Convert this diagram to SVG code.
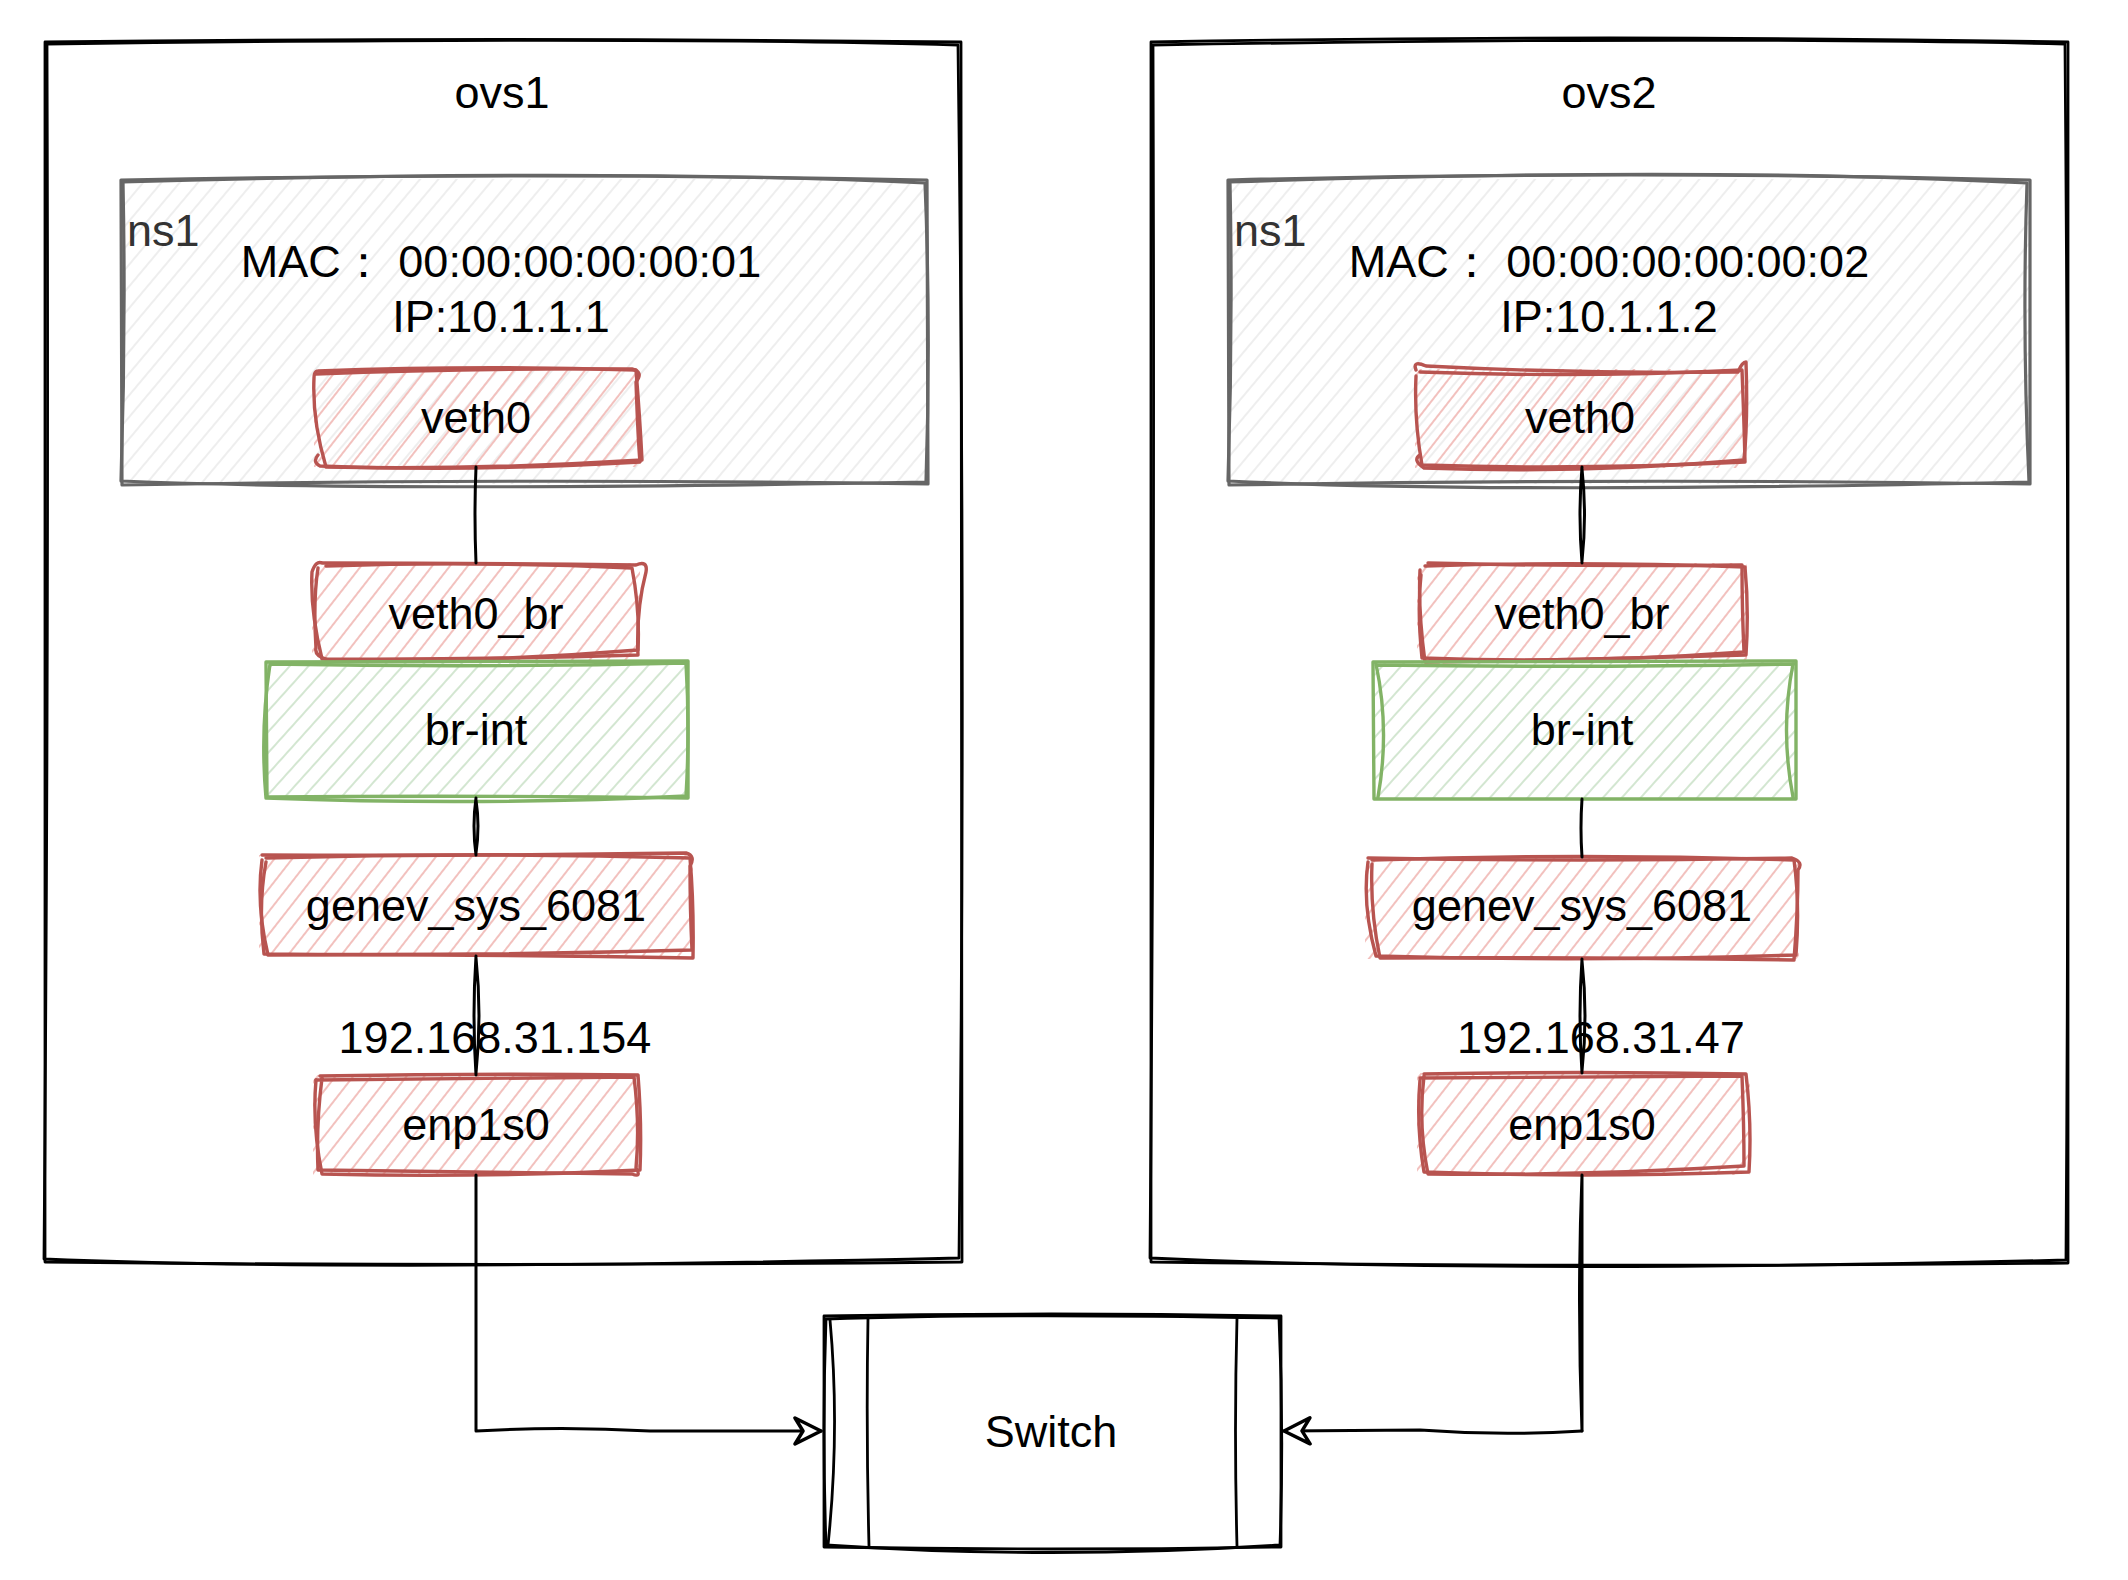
<svg xmlns="http://www.w3.org/2000/svg" width="2128" height="1580" viewBox="0 0 2128 1580">
<defs>
<style>
text{font-family:"Liberation Sans",Arial,Helvetica,sans-serif;font-size:45px;fill:#000}
.c{text-anchor:middle}
.ol{fill:none;stroke:#000;stroke-width:2.8;stroke-linejoin:round;stroke-linecap:round}
.gr{fill:none;stroke:#666;stroke-width:3.2;stroke-linejoin:round;stroke-linecap:round}
.rd{fill:none;stroke:#b85450;stroke-width:3.4;stroke-linejoin:round;stroke-linecap:round}
.gn{fill:none;stroke:#82b366;stroke-width:3.4;stroke-linejoin:round;stroke-linecap:round}
.ln{fill:none;stroke:#000;stroke-width:3;stroke-linecap:round;stroke-linejoin:round}
</style>
<pattern id="hGray" patternUnits="userSpaceOnUse" width="14" height="14" patternTransform="rotate(40)">
<line x1="3" y1="0" x2="3" y2="14" stroke="#eeeeee" stroke-width="2"/>
</pattern>
<pattern id="hRed" patternUnits="userSpaceOnUse" width="14" height="14" patternTransform="rotate(38)">
<line x1="3" y1="0" x2="3" y2="14" stroke="#f2c1be" stroke-width="2"/>
</pattern>
<pattern id="hGreen" patternUnits="userSpaceOnUse" width="14" height="14" patternTransform="rotate(42)">
<line x1="3" y1="0" x2="3" y2="14" stroke="#d3e6d1" stroke-width="2"/>
</pattern>
<marker id="arr" markerUnits="userSpaceOnUse" markerWidth="34" markerHeight="34" refX="28" refY="15" orient="auto">
<path d="M2,2 L28,15 L2,28 L10,15 Z" fill="#fff" stroke="#000" stroke-width="3.5" stroke-linejoin="round"/>
</marker>
</defs>
<rect x="0" y="0" width="2128" height="1580" fill="#fff"/>

<g id="ovs1">
<path class="ol" d="M45,42 Q500,37 961,42 L962,1262 Q500,1267 45,1262 Z"/>
<path class="ol" d="M47,44 Q650,36 958,45 Q966,650 959,1258 Q350,1272 44,1259 Q49,650 47,44"/>
<text class="c" x="502" y="108">ovs1</text>
</g>
<g id="ovs2">
<path class="ol" d="M1151,42 Q1610,34 2068,42 L2068,1263 Q1610,1268 1151,1262 Z"/>
<path class="ol" d="M1153,45 Q1700,36 2065,44 Q2070,650 2066,1260 Q1500,1274 1150,1258 Q1155,650 1153,45"/>
<text class="c" x="1609" y="108">ovs2</text>
</g>

<g id="ns1-ovs1">
<rect x="121" y="179" width="806" height="305" fill="url(#hGray)"/>
<path class="gr" d="M121,180 Q520,172 927,180 L928,484 Q520,478 122,485 Z"/>
<path class="gr" d="M123,182 Q600,168 925,183 Q931,330 926,482 Q400,492 121,481 Q126,330 123,182"/>
<text x="127" y="246" style="fill:#333">ns1</text>
<text class="c" x="501" y="277">MAC： 00:00:00:00:00:01</text>
<text class="c" x="501" y="332">IP:10.1.1.1</text>
</g>
<g id="ns1-ovs2">
<rect x="1228" y="179" width="802" height="305" fill="url(#hGray)"/>
<path class="gr" d="M1228,180 Q1630,170 2030,180 L2030,484 Q1630,478 1229,485 Z"/>
<path class="gr" d="M1230,182 Q1700,166 2027,183 Q2022,330 2029,482 Q1500,494 1228,481 Q1233,330 1230,182"/>
<text x="1234" y="246" style="fill:#333">ns1</text>
<text class="c" x="1609" y="277">MAC： 00:00:00:00:00:02</text>
<text class="c" x="1609" y="332">IP:10.1.1.2</text>
</g>

<g id="veth0-ovs1">
<rect x="314" y="370" width="324" height="97" fill="url(#hRed)"/>
<path class="rd" d="M318,371 Q480,365 636,370 Q640,420 642,460 Q480,470 326,467 Q312,420 314,378 Q314,368 322,372"/>
<path class="rd" d="M316,374 Q470,368 632,369 Q644,372 636,382 Q638,440 640,462 Q470,472 320,466 Q312,462 318,455"/>
<text class="c" x="476" y="433">veth0</text>
</g>
<g id="veth0-ovs2">
<rect x="1415" y="369" width="330" height="99" fill="url(#hRed)"/>
<path class="rd" d="M1420,372 Q1580,378 1742,370 Q1744,420 1745,462 Q1580,470 1422,465 Q1414,420 1416,376"/>
<path class="rd" d="M1416,370 Q1412,360 1426,366 Q1580,374 1738,372 Q1742,362 1746,362 Q1748,420 1744,460 Q1580,474 1424,468 Q1412,460 1420,455"/>
<text class="c" x="1580" y="433">veth0</text>
</g>

<g id="veth0_br-ovs1">
<rect x="312" y="563" width="328" height="97" fill="url(#hRed)"/>
<path class="rd" d="M322,563 Q480,563 636,565 Q648,560 646,572 Q636,610 638,655 Q480,660 322,659 Q310,610 312,572 Q316,560 322,563"/>
<path class="rd" d="M326,566 Q480,561 632,568 Q640,610 638,650 Q480,663 328,660 Q314,656 316,648 Q313,600 318,568"/>
<text class="c" x="476" y="629">veth0_br</text>
</g>
<g id="veth0_br-ovs2">
<rect x="1417" y="563" width="330" height="99" fill="url(#hRed)"/>
<path class="rd" d="M1425,566 Q1580,561 1745,567 Q1749,610 1746,655 Q1580,660 1425,662 Q1418,610 1420,570"/>
<path class="rd" d="M1428,563 Q1580,567 1742,565 Q1742,610 1744,652 Q1580,664 1422,658 Q1417,610 1421,575"/>
<text class="c" x="1582" y="629">veth0_br</text>
</g>

<g id="br-int-ovs1">
<rect x="266" y="661" width="422" height="137" fill="url(#hGreen)"/>
<path class="gn" d="M266,662 L688,661 L688,798 Q480,795 267,797 Z"/>
<path class="gn" d="M270,664 Q480,668 686,663 Q690,730 686,796 Q480,806 266,798 Q260,730 270,664"/>
<text class="c" x="476" y="745">br-int</text>
</g>
<g id="br-int-ovs2">
<rect x="1373" y="661" width="423" height="138" fill="url(#hGreen)"/>
<path class="gn" d="M1373,662 L1796,661 L1796,799 L1374,799 Z"/>
<path class="gn" d="M1376,664 Q1390,730 1378,797 M1793,664 Q1780,730 1793,797 M1376,665 Q1580,668 1794,664"/>
<text class="c" x="1582" y="745">br-int</text>
</g>

<g id="genev-ovs1">
<rect x="259" y="855" width="434" height="101" fill="url(#hRed)"/>
<path class="rd" d="M266,858 Q480,852 690,858 Q694,905 693,958 Q480,954 268,955 Q256,905 262,860"/>
<path class="rd" d="M262,855 Q480,856 686,853 Q696,856 690,866 Q690,910 692,950 Q480,956 264,954 Q258,905 266,862"/>
<text class="c" x="476" y="921">genev_sys_6081</text>
</g>
<g id="genev-ovs2">
<rect x="1365" y="857" width="434" height="102" fill="url(#hRed)"/>
<path class="rd" d="M1372,860 Q1580,853 1794,860 Q1800,905 1796,955 Q1580,962 1376,956 Q1362,905 1368,862"/>
<path class="rd" d="M1368,858 Q1580,862 1792,858 Q1804,862 1798,870 Q1798,910 1794,960 Q1580,957 1380,958 Q1370,910 1372,864"/>
<text class="c" x="1582" y="921">genev_sys_6081</text>
</g>

<g id="ip-labels">
<text class="c" x="495" y="1053">192.168.31.154</text>
<text class="c" x="1601" y="1053">192.168.31.47</text>
</g>

<g id="enp1s0-ovs1">
<rect x="313" y="1075" width="328" height="100" fill="url(#hRed)"/>
<path class="rd" d="M320,1076 Q480,1073 638,1075 Q642,1125 640,1170 Q480,1178 322,1174 Q312,1125 316,1080"/>
<path class="rd" d="M316,1080 Q480,1079 634,1077 Q640,1125 636,1168 Q642,1178 632,1174 Q480,1172 318,1170 Q316,1125 322,1078"/>
<text class="c" x="476" y="1140">enp1s0</text>
</g>
<g id="enp1s0-ovs2">
<rect x="1417" y="1073" width="333" height="102" fill="url(#hRed)"/>
<path class="rd" d="M1424,1074 Q1580,1071 1746,1074 Q1752,1125 1749,1172 Q1580,1178 1424,1172 Q1416,1125 1420,1080"/>
<path class="rd" d="M1420,1078 Q1580,1077 1742,1076 Q1744,1125 1744,1166 Q1580,1176 1428,1174 Q1418,1125 1424,1076"/>
<text class="c" x="1582" y="1140">enp1s0</text>
</g>

<g id="switch">
<path class="ol" d="M824,1316 Q1050,1312 1281,1316 L1281,1547 Q1050,1551 824,1547 Z"/>
<path class="ol" d="M826,1319 Q1000,1313 1279,1318 Q1284,1430 1280,1545 Q1050,1560 826,1545 Q822,1430 826,1319"/>
<path class="ol" d="M868,1318 Q866,1430 869,1546 M1237,1318 Q1234,1430 1237,1546 M830,1320 Q840,1430 828,1545"/>
<text class="c" x="1051" y="1447">Switch</text>
</g>

<g id="connectors">
<path class="ln" d="M476,467 Q474,515 476,563"/>
<path class="ln" d="M476,798 Q472,826 476,855 M476,800 Q480,826 476,853"/>
<path class="ln" d="M476,956 Q472,1015 476,1075 M476,958 Q482,1015 476,1073"/>
<path class="ln" d="M476,1175 L476,1431 Q560,1426 650,1431 L821,1431" marker-end="url(#arr)"/>
<path class="ln" d="M1582,467 Q1578,515 1582,563 M1582,469 Q1587,515 1582,561"/>
<path class="ln" d="M1582,799 Q1580,828 1582,857"/>
<path class="ln" d="M1582,959 Q1578,1015 1582,1073 M1582,961 Q1588,1015 1582,1071"/>
<path class="ln" d="M1582,1175 Q1577,1300 1582,1431 L1582,1175"/>
<path class="ln" d="M1582,1431 Q1500,1436 1420,1430 L1284,1431" marker-end="url(#arr)"/>
</g>
</svg>
